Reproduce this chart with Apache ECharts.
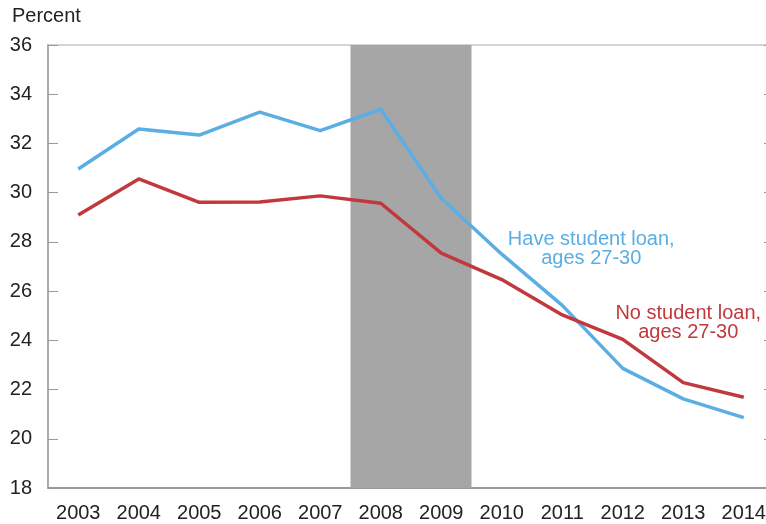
<!DOCTYPE html>
<html>
<head>
<meta charset="utf-8">
<script src="https://cdn.jsdelivr.net/npm/echarts@6/dist/echarts.min.js"></script>
<style>
  html, body { margin: 0; padding: 0; background: #fff; }
  #chart { width: 766px; height: 524px; }
</style>
</head>
<body>
<div id="chart"></div>
<script>
const years = ['2003','2004','2005','2006','2007','2008','2009','2010','2011','2012','2013','2014'];
const haveLoan = [30.96, 32.59, 32.34, 33.27, 32.52, 33.39, 29.77, 27.5, 25.42, 22.86, 21.62, 20.86];
const noLoan = [29.09, 30.56, 29.61, 29.62, 29.87, 29.57, 27.54, 26.47, 25.03, 24.04, 22.28, 21.69];
const recessionYears = ['2008', '2009'];
const yTicks = { min: 18, max: 36, step: 2 };
const haveLabel = 'Have student loan,\nages 27-30';
const noLabel = 'No student loan,\nages 27-30';
const yTitle = 'Percent';

const font = 'Liberation Sans, Arial, sans-serif';
const chart = echarts.init(document.getElementById('chart'), null, { renderer: 'canvas' });

const recessionData = years.map(y => recessionYears.includes(y) ? yTicks.max : null);

chart.setOption({
  animation: false,
  backgroundColor: '#fff',
  grid: { left: 48, top: 45, width: 726, height: 443, show: true, borderColor: '#aaa', borderWidth: 1, backgroundColor: 'transparent', outerBoundsMode: 'none', containLabel: false },
  xAxis: {
    type: 'category',
    data: years,
    boundaryGap: true,
    axisLine: { lineStyle: { color: '#888', width: 1.5 } },
    axisTick: { inside: true, length: 9, lineStyle: { color: '#888' } },
    axisLabel: { color: '#222', fontSize: 20, fontFamily: font, margin: 15 },
    splitLine: { show: false }
  },
  yAxis: [{
    type: 'value',
    min: yTicks.min, max: yTicks.max, interval: yTicks.step,
    axisLine: { show: true, lineStyle: { color: '#aaa', width: 2 } },
    axisTick: { show: true, inside: true, length: 10, lineStyle: { color: '#999' } },
    axisLabel: { color: '#222', fontSize: 20, fontFamily: font, margin: 16 },
    splitLine: { show: false }
  }, {
    type: 'value', position: 'right',
    min: yTicks.min, max: yTicks.max, interval: yTicks.step,
    axisLine: { show: true, lineStyle: { color: '#aaa' } },
    axisTick: { show: true, inside: true, length: 10, lineStyle: { color: '#999' } },
    axisLabel: { show: false },
    splitLine: { show: false }
  }],
  series: [
    {
      type: 'bar',
      data: recessionData,
      barCategoryGap: '0%',
      barGap: '-100%',
      itemStyle: { color: '#a6a6a6' },
      silent: true,
      z: 1
    },
    {
      type: 'line',
      data: haveLoan,
      symbol: 'none',
      lineStyle: { color: '#5aaee4', width: 3.5 },
      itemStyle: { color: '#5aaee4' },
      z: 3
    },
    {
      type: 'line',
      data: noLoan,
      symbol: 'none',
      lineStyle: { color: '#c1393d', width: 3.5 },
      itemStyle: { color: '#c1393d' },
      z: 4
    }
  ]
});

const p1 = chart.convertToPixel({ seriesIndex: 1 }, ['2011', 27.73]);
const p2 = chart.convertToPixel({ seriesIndex: 2 }, ['2013', 24.72]);
chart.setOption({
  graphic: [
    { type: 'text', left: 12, top: 6, style: { text: yTitle, fontSize: 20, fontFamily: font, fill: '#222' } },
    { type: 'text', x: p1[0] + 29, y: p1[1], style: { text: haveLabel, fontSize: 20, fontFamily: font, fill: '#5aaee4', align: 'center', verticalAlign: 'middle', lineHeight: 19 }, z: 100 },
    { type: 'text', x: p2[0] + 5, y: p2[1], style: { text: noLabel, fontSize: 20, fontFamily: font, fill: '#c1393d', align: 'center', verticalAlign: 'middle', lineHeight: 19 }, z: 100 }
  ]
});
</script>
</body>
</html>
